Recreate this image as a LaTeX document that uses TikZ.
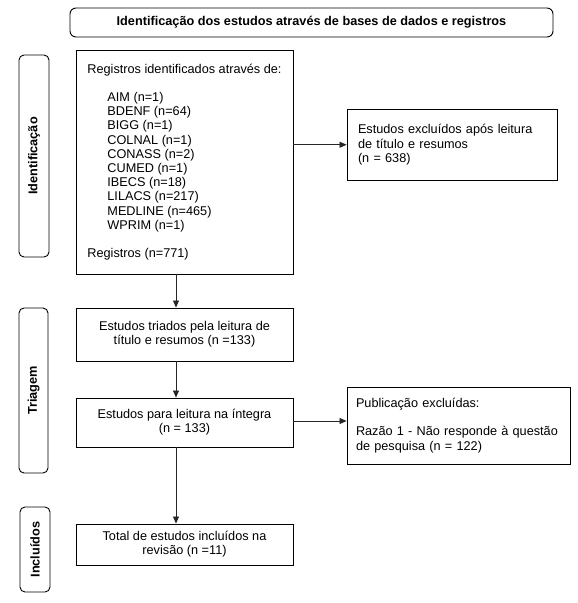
\documentclass[tikz,border=0pt]{standalone}
\usepackage{fontspec}
\setmainfont{Liberation Sans}
\usetikzlibrary{arrows.meta}
\begin{document}
\begin{tikzpicture}[x=1pt,y=-1pt,
  every node/.style={font=\fontsize{12.7}{14.2}\selectfont},
  box/.style={draw=black, line width=0.9pt, rectangle, inner sep=0pt, align=center},
  lbox/.style={box, align=left, inner xsep=11pt},
  side/.style={draw=black, line width=0.9pt, rounded corners=5pt, rotate=90, inner sep=0pt,
    font=\fontsize{12.7}{14.2}\selectfont\bfseries},
  conn/.style={line width=0.8pt, draw=black!85, -{Triangle[length=7pt,width=6pt]}}
]
\useasboundingbox (0,0) rectangle (578,603);

\node[box, rounded corners=6pt, minimum width=483pt, minimum height=29pt,
  font=\fontsize{12.7}{14.2}\selectfont\bfseries] (head) at (311.5,22.5)
  {Identificação dos estudos através de bases de dados e registros};

\node[side, minimum width=202pt, minimum height=30pt] (sideid) at (34,156) {Identificação};
\node[side, minimum width=165pt, minimum height=29pt] (sidetri) at (33.5,390.5) {Triagem};
\node[side, minimum width=85pt, minimum height=30pt] (sideinc) at (35,549.5) {Incluídos};

\node[box, align=left, minimum width=217pt, minimum height=224pt] (reg) at (184.5,162)
  {Registros identificados através de:\\[14.2pt]
   \hspace*{20pt}AIM (n=1)\\
   \hspace*{20pt}BDENF (n=64)\\
   \hspace*{20pt}BIGG (n=1)\\
   \hspace*{20pt}COLNAL (n=1)\\
   \hspace*{20pt}CONASS (n=2)\\
   \hspace*{20pt}CUMED (n=1)\\
   \hspace*{20pt}IBECS (n=18)\\
   \hspace*{20pt}LILACS (n=217)\\
   \hspace*{20pt}MEDLINE (n=465)\\
   \hspace*{20pt}WPRIM (n=1)\\[14.2pt]
   Registros (n=771)};

\node[lbox, text width=188pt, minimum width=210pt, minimum height=71.5pt] (excl) at (452,144.75)
  {Estudos excluídos após leitura\\de título e resumos\\(n = 638)};

\node[box, minimum width=217pt, minimum height=53pt] (tri) at (184.5,334.5)
  {Estudos triados pela leitura de\\título e resumos (n =133)};

\node[box, minimum width=217pt, minimum height=49pt] (para) at (184.5,422.5)
  {Estudos para leitura na íntegra\\(n = 133)};

\node[lbox, inner xsep=9pt, text width=205pt, minimum width=223pt, minimum height=77pt] (publ) at (458.5,425.5)
  {Publicação excluídas:\\[14.2pt]Razão 1 - Não responde à questão\\de pesquisa (n = 122)};

\node[box, minimum width=217pt, minimum height=41pt] (tot) at (184.5,544.5)
  {Total de estudos incluídos na\\revisão (n =11)};

\draw[conn] ([xshift=-8.5pt]reg.south) -- ([xshift=-8.5pt]tri.north);
\draw[conn] ([xshift=-8.5pt]tri.south) -- ([xshift=-8.5pt]para.north);
\draw[conn] ([xshift=-8.5pt]para.south) -- ([xshift=-8.5pt]tot.north);
\draw[conn] (reg.east |- excl.west) -- (excl.west);
\draw[conn] ([yshift=1.5pt]para.east) -- ([yshift=1.5pt]para.east -| publ.west);
\end{tikzpicture}
\end{document}
